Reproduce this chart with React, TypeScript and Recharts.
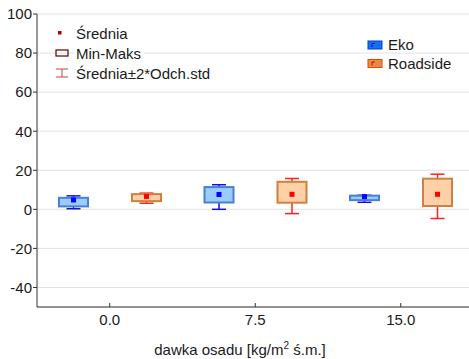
import { ComposedChart, Bar, XAxis, YAxis, CartesianGrid, Legend } from "recharts";

const doses = ["0.0", "7.5", "15.0"];

// Eko: min-max box, mean, mean ± 2*std
const ekoMin = [1.5, 3.5, 4.7];
const ekoMax = [5.9, 11.4, 7.0];
const ekoMean = [4.8, 7.6, 6.5];
const ekoLow = [0.3, 0.0, 3.6];
const ekoHigh = [6.9, 12.6, 7.2];

// Roadside
const roadMin = [4.2, 3.4, 1.7];
const roadMax = [7.8, 14.1, 15.7];
const roadMean = [6.6, 7.7, 7.7];
const roadLow = [3.1, -2.2, -4.7];
const roadHigh = [8.3, 15.8, 18.0];

const yTicks = [-40, -20, 0, 20, 40, 60, 80, 100];
const seriesNames = ["Eko", "Roadside"];

const data = doses.map((dose, i) => ({
  dose,
  eko: [ekoMin[i], ekoMax[i]],
  ekoStats: { mean: ekoMean[i], lo: ekoLow[i], hi: ekoHigh[i] },
  road: [roadMin[i], roadMax[i]],
  roadStats: { mean: roadMean[i], lo: roadLow[i], hi: roadHigh[i] },
}));

const FONT = "'Liberation Sans', Arial, sans-serif";
const TXT = "#1a1a1a";

const makeBox =
  (key: string, fill: string, stroke: string, whisker: string, dot: string) =>
  (props: any) => {
    const { x, y, width, height, payload } = props;
    const [min, max] = payload[key];
    const st = payload[key + "Stats"];
    const top = Math.min(y, y + height);
    const h = Math.abs(height);
    const k = h / (max - min);
    const yOf = (v: number) => top + (max - v) * k;
    const cx = x + width / 2;
    const cap = 7;
    return (
      <g>
        <line x1={cx} x2={cx} y1={yOf(st.hi)} y2={yOf(st.lo)} stroke={whisker} strokeWidth={1.5} />
        <line x1={cx - cap} x2={cx + cap} y1={yOf(st.hi)} y2={yOf(st.hi)} stroke={whisker} strokeWidth={1.5} />
        <line x1={cx - cap} x2={cx + cap} y1={yOf(st.lo)} y2={yOf(st.lo)} stroke={whisker} strokeWidth={1.5} />
        <rect x={x} y={top} width={width} height={h} fill={fill} stroke={stroke} strokeWidth={2} />
        <rect x={cx - 2.5} y={yOf(st.mean) - 2.5} width={5} height={5} fill={dot} />
      </g>
    );
  };

const BottomTick = (props: any) => {
  const { x, y, payload } = props;
  return (
    <g>
      <line x1={x} x2={x} y1={y - 4} y2={y} stroke="#333" />
      <text x={x} y={y + 18} textAnchor="middle" fontSize={15} fill={TXT} fontFamily={FONT}>
        {payload.value}
      </text>
    </g>
  );
};

const TopTick = (props: any) => {
  const { x, y } = props;
  return <line x1={x} x2={x} y1={y} y2={y + 4} stroke="#333" />;
};

const renderLegend = () => (
  <svg width={469} height={90} style={{ display: "block" }}>
    <g fontFamily={FONT} fontSize={15} fill={TXT}>
      <rect x={58} y={31} width={3.5} height={3.5} fill="#a00000" />
      <text x={76} y={38.5}>Średnia</text>

      <rect x={74} y={46} width={70} height={14} fill="#fff" />
      <rect x={56} y={50} width={12} height={6} fill="none" stroke="#5a0000" strokeWidth={1.2} />
      <text x={76} y={58.5}>Min-Maks</text>

      <line x1={56} x2={68} y1={69} y2={69} stroke="#d06060" strokeWidth={1.2} />
      <line x1={56} x2={68} y1={77} y2={77} stroke="#d06060" strokeWidth={1.2} />
      <line x1={62} x2={62} y1={69} y2={77} stroke="#d06060" strokeWidth={1.2} />
      <text x={76} y={78.5}>Średnia±2*Odch.std</text>

      <rect x={368} y={41} width={14} height={8} fill="#1a6cff" stroke="#0040c0" />
      <path d="M372,47 V43.5 H375" stroke="#002080" fill="none" />
      <text x={388} y={50}>{seriesNames[0]}</text>

      <rect x={368} y={59.5} width={14} height={8} fill="#f08840" stroke="#c05818" />
      <path d="M372,65.5 V62 H375" stroke="#e00000" fill="none" />
      <text x={388} y={69}>{seriesNames[1]}</text>
    </g>
  </svg>
);

export default function App() {
  return (
    <div
      style={{
        position: "absolute",
        left: 0,
        top: 0,
        width: 469,
        height: 359,
        overflow: "hidden",
        background: "#fff",
        fontFamily: FONT,
      }}
    >
      <ComposedChart
        width={480}
        height={359}
        data={data}
        margin={{ top: 14, right: 6.5, bottom: 0, left: 0 }}
        barGap={44}
      >
        <CartesianGrid vertical={false} stroke="#e2e2e2" />
        <XAxis
          xAxisId="top"
          orientation="top"
          dataKey="dose"
          height={0}
          tickSize={0}
          tickMargin={0}
          axisLine={{ stroke: "#333" }}
          tickLine={false}
          tick={<TopTick />}
        />
        <XAxis
          xAxisId="bottom"
          dataKey="dose"
          height={52}
          tickSize={0}
          tickMargin={0}
          axisLine={{ stroke: "#333" }}
          tickLine={false}
          tick={<BottomTick />}
          label={() => (
            <text x={240} y={355} textAnchor="middle" fontSize={15} fill={TXT} fontFamily={FONT}>
              dawka osadu [kg/m
              <tspan dy={-6} fontSize={10}>2</tspan>
              <tspan dy={6}> ś.m.]</tspan>
            </text>
          )}
        />
        <YAxis
          width={37}
          domain={[-50, 100]}
          ticks={yTicks}
          interval={0}
          tickSize={4}
          tickMargin={1}
          axisLine={{ stroke: "#333" }}
          tickLine={{ stroke: "#333" }}
          tick={{ fontSize: 15, fill: TXT, fontFamily: FONT }}
        />
        <Legend
          verticalAlign="middle"
          layout="horizontal"
          wrapperStyle={{ position: "absolute", top: 0, left: 0, width: 469, height: 90 }}
          content={renderLegend}
        />
        <Bar
          xAxisId="bottom"
          dataKey="eko"
          name={seriesNames[0]}
          barSize={29}
          isAnimationActive={false}
          shape={makeBox("eko", "#99ccff", "#4a7fd8", "#1010e0", "#0000ff")}
        />
        <Bar
          xAxisId="bottom"
          dataKey="road"
          name={seriesNames[1]}
          barSize={29}
          isAnimationActive={false}
          shape={makeBox("road", "#fdd0a8", "#d08040", "#ff2020", "#ff0000")}
        />
      </ComposedChart>
    </div>
  );
}
